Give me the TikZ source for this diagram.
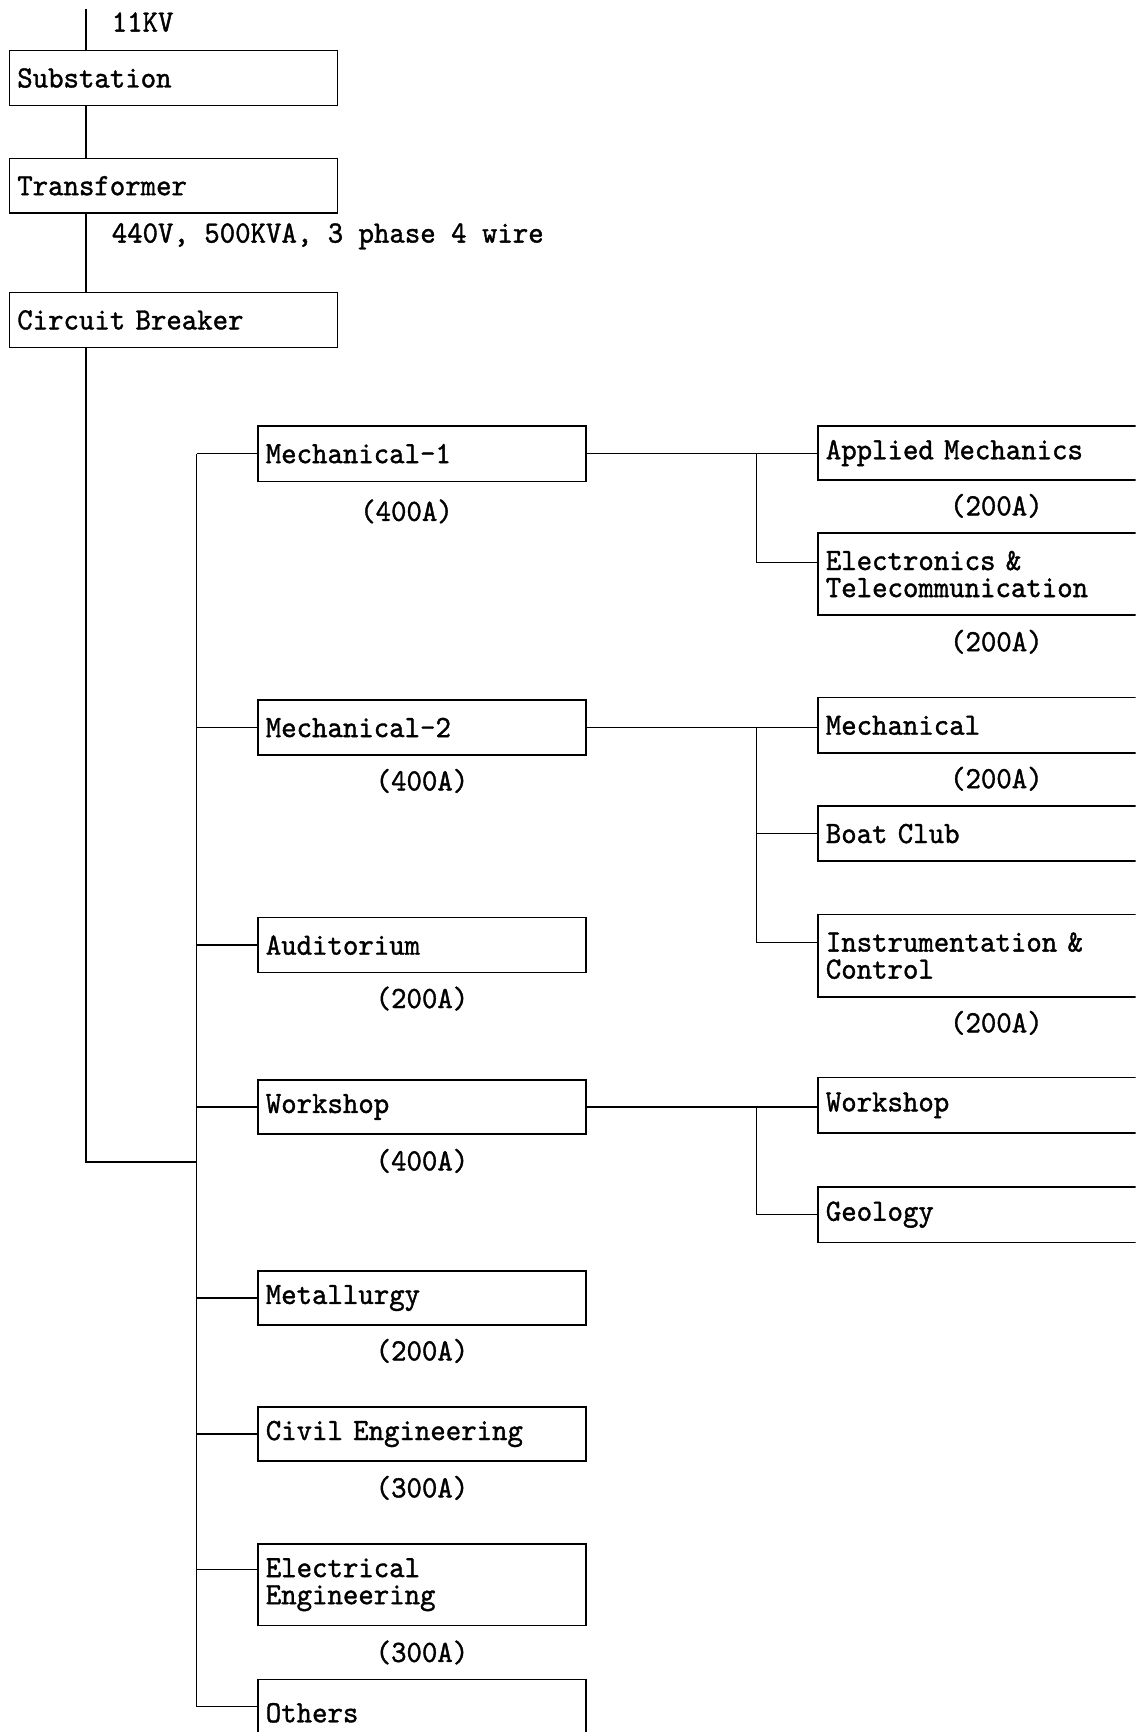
\documentclass[tikz,border=0pt]{standalone}
\usepackage{fontspec}
\newfontfamily\tfont{lmmono10-regular}[Extension=.otf,FakeStretch=0.95,FakeBold=1.2]
\usetikzlibrary{calc}
\tikzset{
  wire/.style={line width=1.2pt, black},
  box/.style={draw, line width=1.3pt, anchor=north west, inner xsep=7pt, inner ysep=0pt,
    align=left, font=\tfont\fontsize{28}{24.5}\selectfont},
  lbox/.style={box, text width=283pt},
  rbox/.style={box, text width=316pt},
  lbl/.style={inner sep=0pt, font=\tfont\fontsize{28}{24.5}\selectfont},
}
\begin{document}
\begin{tikzpicture}[x=1pt,y=-1pt]
\useasboundingbox (0,0) rectangle (1028,1568);
\clip (0,0) rectangle (1028,1568);

% --- supply chain ---
\node[lbox, minimum height=50pt] (sub) at (8,45) {Substation};
\node[lbox, minimum height=49pt] (tr) at (8,143) {Transformer};
\node[lbox, minimum height=50pt] (cb) at (8,264) {Circuit Breaker};
\coordinate (top) at (78,8);
\coordinate (bus) at (178,0);
\coordinate (jn) at (178,1052);
\draw[wire] (top) -- (top |- sub.north);
\draw[wire] (top |- sub.south) -- (top |- tr.north);
\draw[wire] (top |- tr.south) -- (top |- cb.north);
\draw[wire] (top |- cb.south) |- (jn);
\node[lbl, anchor=west] (kv) at (101,20) {11KV};
\node[lbl, anchor=west] (rating) at (101,214) {440V, 500KVA, 3 phase 4 wire};

% --- left column ---
\node[lbox, minimum height=50pt] (m1) at (233,385) {Mechanical-1};
\node[lbox, minimum height=50pt] (m2) at (233,633) {Mechanical-2};
\node[lbox, minimum height=50pt] (aud) at (233,830) {Auditorium};
\node[lbox, minimum height=49pt] (ws) at (233,977) {Workshop};
\node[lbox, minimum height=49pt] (met) at (233,1150) {Metallurgy};
\node[lbox, minimum height=49pt] (civ) at (233,1273) {Civil Engineering};
\node[lbox, minimum height=74pt] (elec) at (233,1397) {Electrical\\Engineering};
\node[lbox, minimum height=60pt] (oth) at (233,1520) {Others};
\coordinate (elecin) at ($(elec.north west)+(0,24)$);
\coordinate (othin) at ($(oth.north west)+(0,25)$);

\draw[wire] (bus |- m1.west) -- (bus |- othin);
\draw[wire] (bus |- m1.west) -- (m1.west);
\draw[wire] (bus |- m2.west) -- (m2.west);
\draw[wire] (bus |- aud.west) -- (aud.west);
\draw[wire] (bus |- ws.west) -- (ws.west);
\draw[wire] (bus |- met.west) -- (met.west);
\draw[wire] (bus |- civ.west) -- (civ.west);
\draw[wire] (bus |- elecin) -- (elecin);
\draw[wire] (bus |- othin) -- (othin);

\node[lbl] (l1) at (368,463) {(400A)};
\node[lbl] (l2) at (382,707) {(400A)};
\node[lbl] (l3) at (382,904) {(200A)};
\node[lbl] (l4) at (382,1051) {(400A)};
\node[lbl] (l5) at (382,1223) {(200A)};
\node[lbl] (l6) at (382,1347) {(300A)};
\node[lbl] (l7) at (382,1496) {(300A)};

% --- right column ---
\node[rbox, minimum height=49pt] (am) at (740,385) {Applied Mechanics};
\node[rbox, minimum height=74pt] (et) at (740,482) {Electronics \&\\Telecommunication};
\node[rbox, minimum height=50pt] (mech) at (740,631) {Mechanical};
\node[rbox, minimum height=50pt] (bc) at (740,729) {Boat Club};
\node[rbox, minimum height=75pt] (ic) at (740,827) {Instrumentation \&\\Control};
\node[rbox, minimum height=50pt] (ws2) at (740,975) {Workshop};
\node[rbox, minimum height=50pt] (geo) at (740,1074) {Geology};
\coordinate (etin) at ($(et.north west)+(0,27)$);
\coordinate (icin) at ($(ic.north west)+(0,26)$);
\coordinate (br) at (685,0);

\draw[wire] (m1.east) -- (m1.east -| am.west);
\draw[wire] (br |- m1.east) |- (etin);
\draw[wire] (m2.east) -- (m2.east -| mech.west);
\draw[wire] (br |- m2.east) |- (icin);
\draw[wire] (br |- bc.west) -- (bc.west);
\draw[wire] (ws.east) -- (ws.east -| ws2.west);
\draw[wire] (br |- ws.east) |- (geo.west);

\node[lbl] (r1) at (902,458) {(200A)};
\node[lbl] (r2) at (902,581) {(200A)};
\node[lbl] (r3) at (902,705) {(200A)};
\node[lbl] (r4) at (902,926) {(200A)};
\end{tikzpicture}
\end{document}
